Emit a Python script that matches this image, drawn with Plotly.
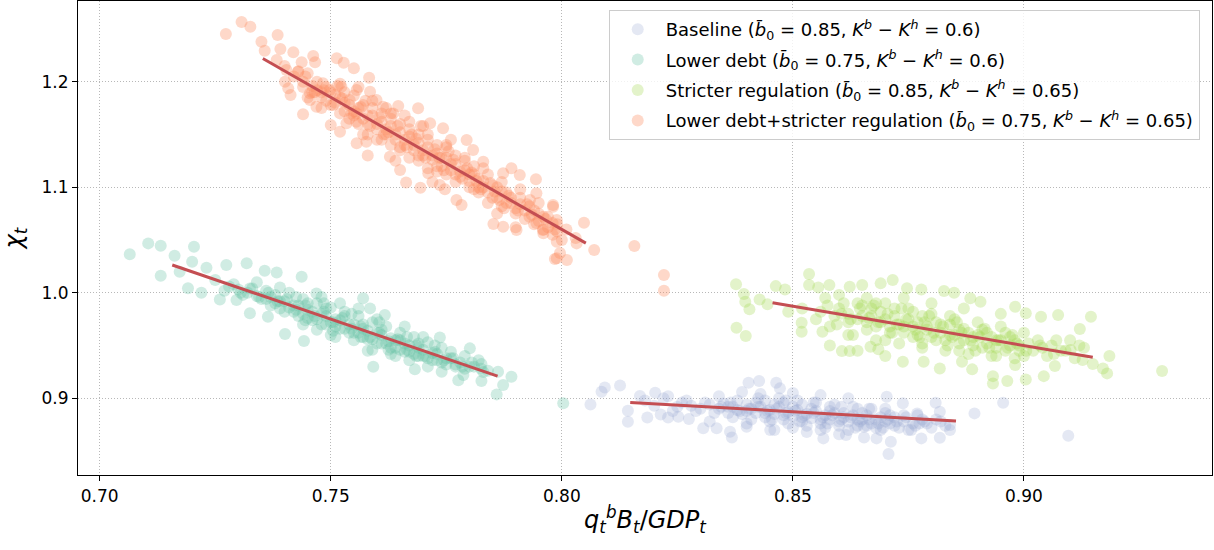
import plotly.graph_objects as go

# ---------------- data ----------------
# Baseline: edge points, then the dense core (two passes)
base_x = [0.8093, 0.8086, 0.8126, 0.8062, 0.8143, 0.8143, 0.8169, 0.8185, 0.8202, 0.8214,
          0.8230, 0.8252, 0.8275, 0.8306, 0.8335, 0.8364, 0.8368, 0.8404, 0.8427, 0.8464,
          0.8472, 0.8451, 0.8400, 0.8566, 0.8654, 0.8681, 0.8712, 0.8707, 0.8778, 0.8818,
          0.8818, 0.8809, 0.8840, 0.8893, 0.8955, 0.9096, 0.8703, 0.8738, 0.8769, 0.8774,
          0.8756, 0.8615, 0.8654,
          0.822, 0.825, 0.827, 0.829, 0.831, 0.833, 0.834, 0.836, 0.837, 0.838,
          0.840, 0.841, 0.842, 0.843, 0.844, 0.845, 0.846, 0.847, 0.848, 0.849,
          0.850, 0.851, 0.852, 0.853, 0.854, 0.855, 0.856, 0.857, 0.858, 0.859,
          0.860, 0.861, 0.862, 0.863, 0.864, 0.865, 0.866, 0.867, 0.868, 0.869,
          0.870, 0.871, 0.872, 0.873, 0.874, 0.876, 0.878, 0.880, 0.882, 0.884,
          0.832, 0.839, 0.850, 0.856, 0.862, 0.846, 0.853, 0.860]
base_y = [0.9103, 0.9062, 0.9122, 0.8942, 0.8882, 0.8777, 0.9021, 0.8819, 0.9052, 0.8847,
          0.8819, 0.8825, 0.8803, 0.8715, 0.8715, 0.8682, 0.8629, 0.9147, 0.9163, 0.9147,
          0.9094, 0.8699, 0.8730, 0.8620, 0.8629, 0.8620, 0.8588, 0.8471, 0.8620, 0.8626,
          0.8872, 0.8957, 0.8746, 0.8857, 0.8957, 0.8645, 0.9014, 0.8952, 0.8857, 0.8762,
          0.8699, 0.8651, 0.8730,
          0.900, 0.892, 0.898, 0.888, 0.896, 0.886, 0.902, 0.892, 0.882, 0.898,
          0.888, 0.880, 0.896, 0.904, 0.886, 0.878, 0.894, 0.900, 0.884, 0.876,
          0.892, 0.898, 0.882, 0.874, 0.890, 0.896, 0.880, 0.872, 0.888, 0.894,
          0.878, 0.886, 0.870, 0.892, 0.880, 0.886, 0.874, 0.890, 0.880, 0.870,
          0.886, 0.876, 0.882, 0.872, 0.884, 0.876, 0.880, 0.872, 0.878, 0.870,
          0.878, 0.906, 0.905, 0.903, 0.900, 0.870, 0.868, 0.866]
base_core_x = [0.826, 0.828, 0.830, 0.832, 0.834, 0.835, 0.836, 0.837, 0.838, 0.839,
               0.840, 0.841, 0.842, 0.843, 0.844, 0.845, 0.846, 0.847, 0.848, 0.849,
               0.850, 0.851, 0.852, 0.853, 0.854, 0.855, 0.856, 0.857, 0.858, 0.859,
               0.860, 0.861, 0.862, 0.863, 0.864, 0.865, 0.866, 0.867, 0.868, 0.869,
               0.870, 0.871, 0.872, 0.874, 0.875, 0.877, 0.879, 0.881, 0.883, 0.844,
               0.848, 0.852, 0.858, 0.864, 0.870, 0.850, 0.856, 0.840, 0.818, 0.820,
               0.823, 0.824,
               0.8345, 0.8365, 0.8385, 0.8405, 0.8425, 0.8445, 0.8465, 0.8485, 0.8505, 0.8525,
               0.8545, 0.8565, 0.8585, 0.8605, 0.8625, 0.8645, 0.8665, 0.8685, 0.8705, 0.8725,
               0.8745, 0.8765, 0.8785, 0.8455, 0.8515, 0.8575, 0.8635, 0.8695, 0.8425, 0.8485,
               0.8545, 0.8605, 0.8665]
base_core_y = [0.896, 0.893, 0.890, 0.894, 0.890, 0.895, 0.886, 0.892, 0.889, 0.885,
               0.894, 0.890, 0.886, 0.892, 0.882, 0.889, 0.885, 0.892, 0.880, 0.887,
               0.883, 0.889, 0.878, 0.885, 0.881, 0.888, 0.876, 0.884, 0.880, 0.886,
               0.874, 0.882, 0.878, 0.884, 0.874, 0.880, 0.884, 0.876, 0.872, 0.882,
               0.878, 0.884, 0.874, 0.878, 0.870, 0.884, 0.876, 0.880, 0.874, 0.898,
               0.896, 0.894, 0.892, 0.890, 0.890, 0.872, 0.870, 0.876, 0.898, 0.893,
               0.902, 0.888,
               0.892, 0.896, 0.888, 0.890, 0.892, 0.888, 0.890, 0.886, 0.888, 0.884,
               0.886, 0.882, 0.884, 0.880, 0.882, 0.878, 0.880, 0.876, 0.880, 0.878,
               0.882, 0.874, 0.878, 0.880, 0.878, 0.876, 0.872, 0.872, 0.900, 0.898,
               0.896, 0.892, 0.890]

lower_x = [0.7065, 0.7105, 0.7132, 0.7162, 0.7204, 0.7132, 0.7173, 0.7200, 0.7191, 0.7220,
           0.7231, 0.7274, 0.7318, 0.7260, 0.7296, 0.7325, 0.7364, 0.7401, 0.7442, 0.7437,
           0.7383, 0.7357, 0.7469, 0.7570, 0.7585, 0.7617, 0.7592, 0.7682, 0.7736, 0.7740,
           0.7776, 0.7801, 0.7826, 0.7826, 0.7862, 0.7891, 0.7873, 0.7859, 0.7787, 0.8003,
           0.725, 0.727, 0.729, 0.731, 0.733, 0.735, 0.736, 0.737, 0.738, 0.739,
           0.740, 0.741, 0.742, 0.743, 0.744, 0.745, 0.746, 0.747, 0.748, 0.749,
           0.750, 0.751, 0.752, 0.753, 0.754, 0.755, 0.756, 0.757, 0.758, 0.759,
           0.760, 0.761, 0.762, 0.763, 0.764, 0.765, 0.766, 0.767, 0.768, 0.769,
           0.770, 0.771, 0.772, 0.773, 0.774, 0.775, 0.776, 0.777, 0.779, 0.780,
           0.782, 0.784, 0.748, 0.752, 0.756, 0.760, 0.764, 0.758, 0.744, 0.734,
           0.739, 0.750, 0.766, 0.770]
lower_y = [1.0364, 1.0468, 1.0445, 1.0351, 1.0436, 1.0161, 1.0199, 1.0294, 1.0042, 1.0000,
           1.0237, 1.0263, 1.0279, 0.9937, 0.9931, 0.9805, 0.9773, 0.9609, 0.9542, 1.0152,
           1.0193, 1.0209, 0.9994, 0.9947, 0.9852, 0.9789, 0.9299, 0.9274, 0.9577, 0.9251,
           0.9172, 0.9473, 0.9324, 0.9163, 0.9251, 0.9204, 0.9125, 0.9037, 0.9220, 0.8952,
           1.012, 1.002, 1.008, 0.998, 1.004, 0.994, 1.002, 0.988, 0.998, 0.992,
           0.982, 1.000, 0.988, 0.978, 0.994, 0.984, 0.974, 0.990, 0.980, 0.970,
           0.986, 0.975, 0.966, 0.982, 0.970, 0.962, 0.978, 0.966, 0.956, 0.972,
           0.962, 0.952, 0.968, 0.957, 0.948, 0.962, 0.952, 0.944, 0.958, 0.948,
           0.940, 0.953, 0.943, 0.936, 0.948, 0.938, 0.944, 0.932, 0.940, 0.930,
           0.936, 0.926, 0.996, 0.990, 0.985, 0.975, 0.940, 0.945, 0.970, 1.010,
           1.005, 0.960, 0.968, 0.958]
lower_core_x = [0.728, 0.730, 0.732, 0.734, 0.736, 0.737, 0.738, 0.739, 0.740, 0.741,
                0.742, 0.743, 0.744, 0.745, 0.746, 0.747, 0.748, 0.749, 0.750, 0.751,
                0.752, 0.753, 0.754, 0.755, 0.756, 0.757, 0.758, 0.759, 0.760, 0.761,
                0.762, 0.763, 0.764, 0.765, 0.766, 0.767, 0.768, 0.769, 0.770, 0.771,
                0.772, 0.773, 0.774, 0.775, 0.776, 0.777, 0.778, 0.779, 0.781, 0.783,
                0.745, 0.749, 0.753, 0.757, 0.761, 0.765, 0.769, 0.747, 0.751, 0.755,
                0.759, 0.763, 0.767, 0.771,
                0.7305, 0.7325, 0.7345, 0.7365, 0.7385, 0.7405, 0.7425, 0.7445, 0.7465, 0.7485,
                0.7505, 0.7525, 0.7545, 0.7565, 0.7585, 0.7605, 0.7625, 0.7645, 0.7665, 0.7685,
                0.7705, 0.7725, 0.7745, 0.7765, 0.7785, 0.7805, 0.7825, 0.7445, 0.7505, 0.7565,
                0.7625, 0.7685, 0.7425, 0.7485, 0.7545, 0.7605, 0.7665, 0.7725]
lower_core_y = [1.006, 1.003, 1.000, 0.997, 0.994, 0.996, 0.990, 0.985, 0.992, 0.986,
                0.982, 0.988, 0.980, 0.976, 0.982, 0.975, 0.970, 0.978, 0.972, 0.968,
                0.974, 0.966, 0.962, 0.970, 0.962, 0.958, 0.964, 0.956, 0.952, 0.960,
                0.952, 0.948, 0.955, 0.946, 0.944, 0.950, 0.942, 0.940, 0.946, 0.938,
                0.936, 0.942, 0.934, 0.932, 0.938, 0.930, 0.934, 0.928, 0.930, 0.925,
                0.990, 0.985, 0.978, 0.970, 0.965, 0.955, 0.952, 0.965, 0.958, 0.955,
                0.946, 0.942, 0.936, 0.930,
                1.000, 1.004, 0.996, 1.000, 0.992, 0.994, 0.984, 0.988, 0.978, 0.982,
                0.972, 0.976, 0.966, 0.968, 0.958, 0.962, 0.954, 0.956, 0.946, 0.950,
                0.940, 0.944, 0.936, 0.938, 0.930, 0.934, 0.928, 0.974, 0.964, 0.958,
                0.946, 0.940, 0.996, 0.990, 0.980, 0.972, 0.958, 0.950]

strict_x = [0.8377, 0.8394, 0.8397, 0.8406, 0.8378, 0.8398, 0.8428, 0.8445, 0.8463, 0.8483,
            0.8490, 0.8519, 0.8519, 0.8535, 0.8535, 0.8555, 0.8579, 0.8564, 0.8606, 0.8623,
            0.8623, 0.8650, 0.8690, 0.8716, 0.8747, 0.8778, 0.8827, 0.8849, 0.8884, 0.8906,
            0.8981, 0.9004, 0.9037, 0.9074, 0.9145, 0.9121, 0.9185, 0.9171, 0.9180, 0.9299,
            0.9149, 0.9127, 0.9101, 0.9067, 0.9043, 0.9004, 0.8964, 0.8933, 0.8933, 0.8888,
            0.8818, 0.8783, 0.8738, 0.8685, 0.8668, 0.8866, 0.8981,
            0.852, 0.855, 0.857, 0.858, 0.860, 0.862, 0.863, 0.864, 0.865, 0.866,
            0.867, 0.868, 0.869, 0.870, 0.871, 0.872, 0.873, 0.874, 0.875, 0.876,
            0.877, 0.878, 0.879, 0.880, 0.881, 0.882, 0.883, 0.884, 0.885, 0.886,
            0.887, 0.888, 0.889, 0.890, 0.891, 0.892, 0.893, 0.894, 0.895, 0.896,
            0.897, 0.898, 0.899, 0.900, 0.902, 0.903, 0.905, 0.906, 0.908, 0.910,
            0.911, 0.913, 0.860, 0.866, 0.874, 0.880, 0.887, 0.895, 0.858, 0.864,
            0.870]
strict_y = [1.0080, 0.9988, 0.9915, 0.9843, 0.9668, 0.9590, 0.9937, 0.9890, 1.0063, 1.0032,
            0.9820, 0.9716, 0.9630, 1.0177, 1.0073, 1.0051, 1.0073, 0.9630, 0.9447, 0.9447,
            1.0057, 1.0073, 1.0089, 1.0120, 1.0042, 1.0032, 1.0016, 1.0000, 0.9947, 0.9915,
            0.9867, 0.9805, 0.9773, 0.9789, 0.9773, 0.9656, 0.9400, 0.9283, 0.9236, 0.9258,
            0.9324, 0.9362, 0.9457, 0.9305, 0.9210, 0.9179, 0.9163, 0.9141, 0.9210, 0.9274,
            0.9283, 0.9346, 0.9346, 0.9464, 0.9488, 0.9346, 0.9315,
            0.985, 0.975, 0.995, 0.968, 0.985, 0.972, 0.960, 0.990, 0.978, 0.965,
            0.985, 0.955, 0.972, 0.990, 0.962, 0.978, 0.952, 0.968, 0.985, 0.958,
            0.972, 0.948, 0.965, 0.980, 0.955, 0.970, 0.945, 0.960, 0.975, 0.952,
            0.966, 0.942, 0.958, 0.972, 0.948, 0.962, 0.940, 0.955, 0.968, 0.945,
            0.958, 0.938, 0.950, 0.962, 0.945, 0.955, 0.940, 0.950, 0.945, 0.955,
            0.938, 0.948, 0.998, 0.995, 0.995, 0.990, 0.985, 0.980, 0.950, 0.945,
            0.940]
strict_core_x = [0.856, 0.859, 0.861, 0.862, 0.864, 0.865, 0.866, 0.867, 0.868, 0.869,
                 0.870, 0.871, 0.872, 0.873, 0.874, 0.875, 0.876, 0.877, 0.878, 0.879,
                 0.880, 0.881, 0.882, 0.883, 0.884, 0.885, 0.886, 0.887, 0.888, 0.889,
                 0.890, 0.891, 0.892, 0.893, 0.894, 0.895, 0.896, 0.897, 0.898, 0.899,
                 0.901, 0.904, 0.907, 0.909, 0.912, 0.868, 0.876, 0.884, 0.862, 0.870,
                 0.878, 0.886, 0.894, 0.900,
                 0.8605, 0.8625, 0.8645, 0.8665, 0.8685, 0.8705, 0.8725, 0.8745, 0.8765, 0.8785,
                 0.8805, 0.8825, 0.8845, 0.8865, 0.8885, 0.8905, 0.8925, 0.8945, 0.8965, 0.8985,
                 0.9005, 0.9035, 0.9065, 0.8715, 0.8775, 0.8835, 0.8895, 0.8675, 0.8735, 0.8795,
                 0.8855, 0.8915, 0.8975, 0.8575, 0.8595]
strict_core_y = [0.982, 0.978, 0.990, 0.980, 0.975, 0.988, 0.972, 0.978, 0.968, 0.982,
                 0.975, 0.968, 0.985, 0.970, 0.962, 0.975, 0.968, 0.960, 0.978, 0.968,
                 0.958, 0.972, 0.962, 0.955, 0.970, 0.960, 0.965, 0.955, 0.962, 0.950,
                 0.960, 0.965, 0.952, 0.958, 0.948, 0.955, 0.962, 0.950, 0.955, 0.945,
                 0.952, 0.948, 0.955, 0.945, 0.950, 0.990, 0.982, 0.978, 0.960, 0.955,
                 0.952, 0.945, 0.940, 0.940,
                 0.980, 0.975, 0.985, 0.976, 0.972, 0.980, 0.970, 0.975, 0.965, 0.972,
                 0.962, 0.968, 0.958, 0.962, 0.955, 0.958, 0.948, 0.955, 0.948, 0.952,
                 0.945, 0.950, 0.942, 0.962, 0.958, 0.950, 0.945, 0.988, 0.985, 0.978,
                 0.972, 0.966, 0.960, 0.988, 0.970]

both_x = [0.7273, 0.7307, 0.7326, 0.7350, 0.7357, 0.7385, 0.7391, 0.7419, 0.7383, 0.7404,
          0.7437, 0.7462, 0.7466, 0.7513, 0.7528, 0.7550, 0.7583, 0.7429, 0.7401, 0.7408,
          0.7413, 0.7440, 0.7455, 0.7455, 0.7469, 0.7483, 0.7498, 0.7500, 0.7520, 0.7523,
          0.7556, 0.7585, 0.7541, 0.7556, 0.7534, 0.7556, 0.7577, 0.7599, 0.7613, 0.7646,
          0.7689, 0.7715, 0.7743, 0.7628, 0.7650, 0.7663, 0.7694, 0.7711, 0.7736, 0.7747,
          0.7772, 0.7783, 0.7794, 0.7808, 0.7830, 0.7873, 0.7891, 0.7909, 0.7944, 0.7852,
          0.7873, 0.7902, 0.7931, 0.7945, 0.7981, 0.7989, 0.7960, 0.7989, 0.7989, 0.8011,
          0.8032, 0.8048, 0.8070, 0.8157, 0.8221, 0.8221, 0.7981, 0.7959, 0.7996, 0.7985,
          0.742, 0.744, 0.745, 0.746, 0.747, 0.748, 0.749, 0.750, 0.751, 0.752,
          0.752, 0.753, 0.754, 0.755, 0.755, 0.756, 0.757, 0.758, 0.758, 0.759,
          0.760, 0.760, 0.761, 0.762, 0.763, 0.763, 0.764, 0.765, 0.765, 0.766,
          0.767, 0.767, 0.768, 0.769, 0.769, 0.770, 0.771, 0.771, 0.772, 0.773,
          0.773, 0.774, 0.775, 0.775, 0.776, 0.777, 0.777, 0.778, 0.779, 0.780,
          0.780, 0.781, 0.782, 0.782, 0.783, 0.784, 0.785, 0.786, 0.787, 0.788,
          0.789, 0.790, 0.791, 0.792, 0.793, 0.794, 0.795, 0.796, 0.797, 0.798,
          0.799, 0.800, 0.801, 0.803, 0.740, 0.743, 0.756, 0.762, 0.766, 0.770,
          0.776, 0.784, 0.786, 0.790, 0.758, 0.764, 0.772]
both_y = [1.2452, 1.2566, 1.2521, 1.2379, 1.2294, 1.2443, 1.2310, 1.2279, 1.2206, 1.2111,
          1.2184, 1.2244, 1.2184, 1.2222, 1.2180, 1.2127, 1.2038, 1.2095, 1.2000, 1.1937,
          1.1874, 1.1691, 1.1890, 1.1827, 1.1763, 1.1985, 1.1921, 1.1590, 1.1526, 1.1953,
          1.1921, 1.1905, 1.1827, 1.1700, 1.1606, 1.1416, 1.1431, 1.1827, 1.1763, 1.1770,
          1.1748, 1.1606, 1.1558, 1.1289, 1.1163, 1.1046, 1.0995, 1.1132, 1.1021, 1.0980,
          1.0879, 1.0831, 1.1447, 1.1353, 1.1242, 1.1132, 1.1179, 1.1116, 1.1075, 1.0651,
          1.0626, 1.0594, 1.0879, 1.0942, 1.0831, 1.0689, 1.0563, 1.0483, 1.0326, 1.0310,
          1.0468, 1.0664, 1.0405, 1.0443, 1.0168, 1.0019, 1.0815, 1.0594, 1.0376, 1.0319,
          1.205, 1.195, 1.208, 1.190, 1.200, 1.185, 1.195, 1.178, 1.188, 1.170,
          1.198, 1.180, 1.165, 1.187, 1.172, 1.160, 1.178, 1.168, 1.150, 1.182,
          1.160, 1.145, 1.170, 1.155, 1.165, 1.140, 1.150, 1.160, 1.135, 1.145,
          1.155, 1.128, 1.140, 1.150, 1.125, 1.135, 1.145, 1.118, 1.130, 1.140,
          1.120, 1.128, 1.112, 1.138, 1.122, 1.130, 1.105, 1.115, 1.125, 1.100,
          1.112, 1.120, 1.095, 1.108, 1.100, 1.112, 1.090, 1.100, 1.082, 1.095,
          1.085, 1.075, 1.090, 1.070, 1.082, 1.065, 1.075, 1.060, 1.072, 1.055,
          1.065, 1.050, 1.060, 1.052, 1.215, 1.210, 1.195, 1.175, 1.168, 1.158,
          1.145, 1.085, 1.075, 1.062, 1.130, 1.125, 1.105]
both_core_x = [0.744, 0.746, 0.747, 0.748, 0.749, 0.750, 0.751, 0.752, 0.753, 0.754,
               0.755, 0.756, 0.757, 0.758, 0.759, 0.760, 0.761, 0.762, 0.763, 0.764,
               0.765, 0.766, 0.767, 0.768, 0.769, 0.770, 0.771, 0.772, 0.773, 0.774,
               0.775, 0.776, 0.777, 0.778, 0.779, 0.780, 0.781, 0.782, 0.783, 0.784,
               0.785, 0.786, 0.787, 0.788, 0.789, 0.790, 0.791, 0.792, 0.793, 0.794,
               0.795, 0.796, 0.797, 0.798, 0.799, 0.757, 0.761, 0.765, 0.769, 0.773,
               0.777, 0.781, 0.753, 0.759, 0.763, 0.767, 0.771, 0.775, 0.779, 0.783,
               0.787, 0.791, 0.795, 0.748, 0.745,
               0.7445, 0.7465, 0.7485, 0.7505, 0.7525, 0.7545, 0.7565, 0.7585, 0.7605, 0.7625,
               0.7645, 0.7665, 0.7685, 0.7705, 0.7725, 0.7745, 0.7765, 0.7785, 0.7805, 0.7825,
               0.7845, 0.7865, 0.7885, 0.7905, 0.7925, 0.7945, 0.7965, 0.7985, 0.7555, 0.7615,
               0.7675, 0.7735, 0.7795, 0.7855, 0.7515, 0.7575, 0.7635, 0.7695, 0.7755, 0.7815,
               0.7875, 0.7935]
both_core_y = [1.200, 1.196, 1.192, 1.190, 1.182, 1.190, 1.180, 1.185, 1.172, 1.178,
               1.168, 1.175, 1.165, 1.160, 1.168, 1.155, 1.162, 1.150, 1.158, 1.145,
               1.152, 1.140, 1.148, 1.135, 1.142, 1.130, 1.138, 1.126, 1.132, 1.120,
               1.128, 1.116, 1.122, 1.110, 1.116, 1.106, 1.112, 1.100, 1.106, 1.095,
               1.102, 1.090, 1.096, 1.085, 1.090, 1.080, 1.084, 1.078, 1.072, 1.078,
               1.068, 1.072, 1.062, 1.066, 1.058, 1.150, 1.145, 1.138, 1.130, 1.115,
               1.112, 1.098, 1.190, 1.175, 1.170, 1.162, 1.150, 1.140, 1.128, 1.118,
               1.105, 1.098, 1.085, 1.175, 1.185,
               1.205, 1.190, 1.192, 1.178, 1.184, 1.170, 1.176, 1.158, 1.166, 1.152,
               1.158, 1.138, 1.146, 1.128, 1.136, 1.116, 1.126, 1.108, 1.114, 1.098,
               1.104, 1.088, 1.092, 1.078, 1.084, 1.066, 1.070, 1.060, 1.162, 1.150,
               1.150, 1.128, 1.118, 1.096, 1.196, 1.182, 1.170, 1.158, 1.134, 1.106,
               1.080, 1.074]

# fitted lines (end points)
base_fit_x = [0.8148, 0.8853]
base_fit_y = [0.8961, 0.8784]
lower_fit_x = [0.7157, 0.7861]
lower_fit_y = [1.0263, 0.9210]
strict_fit_x = [0.8456, 0.9149]
strict_fit_y = [0.9905, 0.9388]
both_fit_x = [0.7353, 0.8052]
both_fit_y = [1.2220, 1.0470]

names = [
    "Baseline (<i>b̄</i><sub>0</sub> = 0.85, <i>K</i><sup><i>b</i></sup> − <i>K</i><sup><i>h</i></sup> = 0.6)",
    "Lower debt (<i>b̄</i><sub>0</sub> = 0.75, <i>K</i><sup><i>b</i></sup> − <i>K</i><sup><i>h</i></sup> = 0.6)",
    "Stricter regulation (<i>b̄</i><sub>0</sub> = 0.85, <i>K</i><sup><i>b</i></sup> − <i>K</i><sup><i>h</i></sup> = 0.65)",
    "Lower debt+stricter regulation (<i>b̄</i><sub>0</sub> = 0.75, <i>K</i><sup><i>b</i></sup> − <i>K</i><sup><i>h</i></sup> = 0.65)",
]
colors = ["#8da0cb", "#66c2a5", "#a6d854", "#fc8d62"]
opac = [0.24, 0.31, 0.31, 0.34]
fit_color = "#c44e52"

xticks = [0.70, 0.75, 0.80, 0.85, 0.90]
yticks = [0.9, 1.0, 1.1, 1.2]

# ---------------- figure ----------------
fig = go.Figure()
series = [(base_x + base_core_x, base_y + base_core_y),
          (lower_x + lower_core_x, lower_y + lower_core_y),
          (strict_x + strict_core_x, strict_y + strict_core_y),
          (both_x + both_core_x, both_y + both_core_y)]
for i, (sx, sy) in enumerate(series):
    fig.add_trace(go.Scatter(
        x=sx, y=sy, mode="markers", name=names[i], legendgroup=f"g{i}",
        marker=dict(size=12, color=colors[i], opacity=opac[i], line=dict(width=0)),
    ))

for fx, fy in [(base_fit_x, base_fit_y), (lower_fit_x, lower_fit_y),
               (strict_fit_x, strict_fit_y), (both_fit_x, both_fit_y)]:
    fig.add_trace(go.Scatter(x=fx, y=fy, mode="lines", showlegend=False,
                             line=dict(color=fit_color, width=3)))

font_family = "DejaVu Sans"
grid_style = dict(showgrid=True, gridcolor="#b8b8b8", griddash="1px,2px", gridwidth=0.8)
fig.update_layout(
    width=1214, height=550,
    margin=dict(l=78, r=2, t=1, b=75),
    plot_bgcolor="white", paper_bgcolor="white",
    font=dict(family=font_family, size=17, color="black"),
    showlegend=True,
    legend=dict(
        x=0.468, y=0.981, xanchor="left", yanchor="top",
        bgcolor="rgba(255,255,255,0.8)", bordercolor="#cccccc", borderwidth=1,
        font=dict(size=18, family=font_family),
        tracegroupgap=4, itemsizing="constant", itemwidth=46,
    ),
)
fig.update_xaxes(
    range=[0.6953, 0.9407], tickvals=xticks, ticktext=[f"{v:.2f}" for v in xticks],
    showline=True, linecolor="black", linewidth=1.2, mirror=True,
    ticks="outside", ticklen=5, tickcolor="black",
    zeroline=False, tickfont=dict(size=17), **grid_style,
    title=dict(text="<i>q</i><sub><i>t</i></sub><sup><i>b</i></sup><i>B</i><sub><i>t</i></sub>/<i>GDP</i><sub><i>t</i></sub>",
               font=dict(size=24), standoff=6),
)
fig.update_yaxes(
    range=[0.8273, 1.2765], tickvals=yticks, ticktext=[f"{v:.1f}" for v in yticks],
    showline=True, linecolor="black", linewidth=1.2, mirror=True,
    ticks="outside", ticklen=5, tickcolor="black",
    zeroline=False, tickfont=dict(size=17), **grid_style,
    title=dict(text="<i>χ</i><sub><i>t</i></sub>", font=dict(size=24), standoff=14),
)

fig.write_html("out.html", config={"displayModeBar": False},
               post_script="document.body.style.margin='0';")
